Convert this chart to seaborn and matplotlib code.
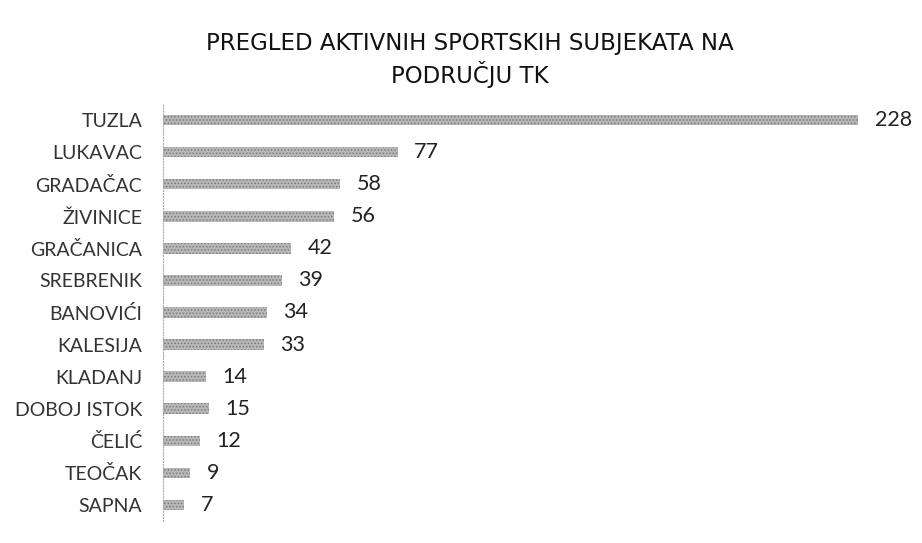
import pandas as pd
import seaborn as sns
import matplotlib.pyplot as plt

# podaci procitani sa slike
opcine = ['TUZLA', 'LUKAVAC', 'GRADAČAC', 'ŽIVINICE', 'GRAČANICA', 'SREBRENIK',
          'BANOVIĆI', 'KALESIJA', 'KLADANJ', 'DOBOJ ISTOK', 'ČELIĆ', 'TEOČAK', 'SAPNA']
broj_subjekata = [228, 77, 58, 56, 42, 39, 34, 33, 14, 15, 12, 9, 7]

title = 'PREGLED AKTIVNIH SPORTSKIH SUBJEKATA NA\nPODRUČJU TK'

df = pd.DataFrame({'Opcina': opcine, 'Broj': broj_subjekata})

sns.set_style('white')
plt.rcParams['font.family'] = ['Lato', 'DejaVu Sans']
plt.rcParams['hatch.color'] = '#7a7a7a'
plt.rcParams['hatch.linewidth'] = 0.7

fig = plt.figure(figsize=(9.22, 5.43), dpi=100)
ax = fig.add_axes([163 / 922, 1 - 521 / 543, 0.99 - 163 / 922, (521 - 104) / 543])

sns.barplot(ax=ax, data=df, x='Broj', y='Opcina', orient='h',
            color='#b8b8b8', width=0.33, saturation=1)
for bar in ax.patches:
    bar.set_hatch('.....')
    bar.set_edgecolor('#7a7a7a')
    bar.set_linewidth(0)

for cont in ax.containers:
    ax.bar_label(cont, padding=12, fontsize=15.5, color='#222222')

ax.set_xlim(0, 246)
ax.set_ylim(12.5, -0.5)
ax.set_xlabel('')
ax.set_ylabel('')
ax.set_xticks([])
ax.tick_params(axis='y', length=0, pad=15, labelsize=14, labelcolor='#333333')
for s in ['top', 'right', 'bottom']:
    ax.spines[s].set_visible(False)
ax.spines['left'].set_linestyle(':')
ax.spines['left'].set_color('#aaaaaa')
ax.spines['left'].set_linewidth(0.8)

fig.text(0.51, 1 - 60 / 543, title, ha='center', va='center', fontsize=16.5,
         family='DejaVu Sans', color='#111111', linespacing=1.25)

fig.savefig('out.png', dpi=100)
